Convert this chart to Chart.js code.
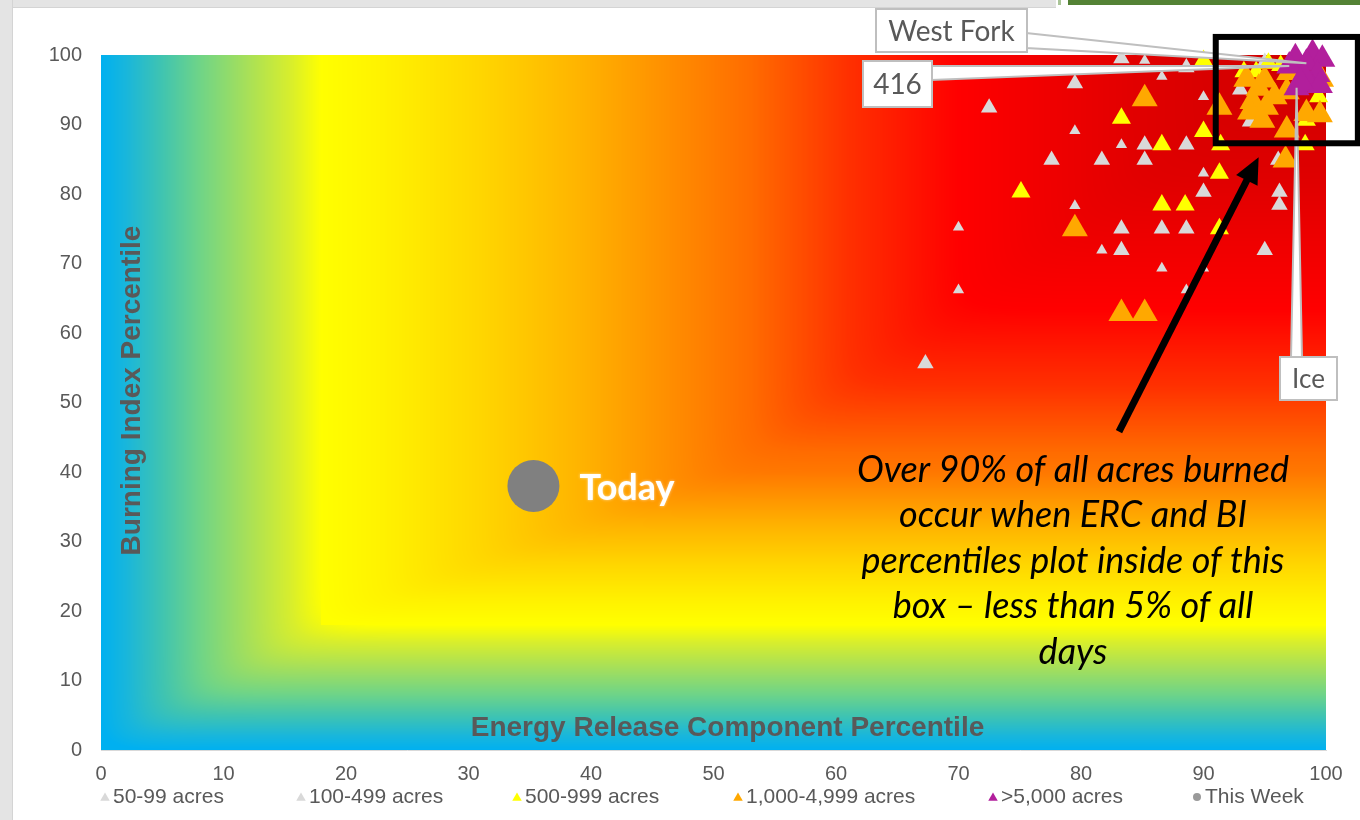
<!DOCTYPE html>
<html>
<head>
<meta charset="utf-8">
<title>ERC vs BI percentiles</title>
<script src="https://cdn.jsdelivr.net/npm/chart.js@4.4.1/dist/chart.umd.min.js"></script>
<style>
  html, body { margin: 0; padding: 0; background: #ffffff; overflow: hidden; }
  #wrap { position: relative; width: 1360px; height: 820px; }
  #chart { display: block; }
  .frame-top { position: absolute; left: 0; top: 0; width: 1056px; height: 7px; background: #e4e4e4; border-bottom: 1px solid #d4d4d4; }
  .frame-left { position: absolute; left: 0; top: 0; width: 12px; height: 820px; background: #e4e4e4; border-right: 1px solid #d4d4d4; }
  .bar-green { position: absolute; left: 1068px; top: 0; width: 292px; height: 5px; background: #548235; }
  .bar-thin { position: absolute; left: 1058px; top: 0; width: 3px; height: 5px; background: #a9c497; }
</style>
</head>
<body>
<div id="wrap">
  <canvas id="chart" width="1360" height="820"></canvas>
  <div class="frame-top"></div>
  <div class="frame-left"></div>
  <div class="bar-thin"></div>
  <div class="bar-green"></div>
</div>
<script>
// Axis ticks (percentiles)
const xTicks = [0, 10, 20, 30, 40, 50, 60, 70, 80, 90, 100];
const yTicks = [0, 10, 20, 30, 40, 50, 60, 70, 80, 90, 100];

// Series names
const seriesLabels = ['50-99 acres', '100-499 acres', '500-999 acres', '1,000-4,999 acres', '>5,000 acres', 'This Week'];

// Fires: [ERC percentile, BI percentile]
const fires50to99 = [
  [70.0, 75.2], [70.0, 66.2], [79.5, 89.1], [79.5, 78.3], [81.7, 71.9], [83.3, 87.1],
  [85.2, 99.2], [86.6, 96.9], [86.6, 69.3], [88.6, 66.2], [90.0, 94.0], [90.0, 83.0], [90.0, 69.3]
];
const fires100to499 = [
  [67.3, 55.6], [72.5, 92.4], [77.6, 84.9], [79.5, 95.9], [81.7, 84.9], [83.3, 99.5],
  [83.3, 75.0], [83.3, 71.9], [85.2, 87.1], [85.2, 84.9], [86.6, 75.0], [88.6, 98.2],
  [88.6, 87.1], [88.6, 75.0], [90.0, 80.3], [95.0, 71.9], [96.1, 84.9], [96.2, 80.3],
  [96.2, 78.4], [93.0, 95.0], [93.8, 90.4], [95.0, 99.0]
];
const fires500to999 = [
  [75.1, 80.3], [83.3, 90.9], [86.6, 87.1], [86.6, 78.4], [88.5, 78.4], [91.3, 83.0],
  [91.3, 75.0], [90.0, 99.2], [90.0, 89.0], [91.4, 87.1], [93.3, 97.6], [94.3, 97.6],
  [95.3, 98.8], [96.3, 98.5], [98.3, 87.1], [99.4, 94.0], [98.4, 90.6]
];
const fires1000to4999 = [
  [79.5, 75.0], [83.3, 62.8], [85.2, 62.8], [85.2, 93.7], [91.3, 92.5], [94.5, 95.2],
  [95.0, 96.4], [94.0, 93.3], [95.1, 92.5], [93.8, 91.8], [96.8, 94.7], [96.8, 89.2],
  [98.4, 91.6], [99.5, 91.4], [96.7, 84.9], [99.6, 96.5], [97.0, 97.5], [93.5, 96.5],
  [95.8, 94.0], [94.8, 90.6]
];
const firesOver5000 = [
  [97.5, 99.6], [98.9, 100.2], [99.7, 99.4], [98.4, 98.8], [99.3, 97.2],
  [97.6, 95.3], [98.7, 95.8], [97.0, 98.4], [98.2, 97.0], [99.5, 95.6], [97.9, 96.2]
];
const thisWeek = [[35.3, 38.0]];

// Named large fires (index into firesOver5000)
const fireNames = ['West Fork', '416', 'Ice'];
const fireNameIndex = [3, 7, 5];

// Highlight box and arrow, in percentile units
const hotBox = [[91.0, 102.6], [87.3, 102.6]];      // [xFrom, xTo], [yFrom, yTo]
const arrowFrom = [83.1, 45.8];
const arrowTo = [94.5, 85.3];

const noteLines = [
  'Over 90% of all acres burned',
  'occur when ERC and BI',
  'percentiles plot inside of this',
  'box \u2013 less than 5% of all',
  'days'
];
const todayLabel = 'Today';
const xTitle = 'Energy Release Component Percentile';
const yTitle = 'Burning Index Percentile';

const toXY = arr => arr.map(p => ({ x: p[0], y: p[1] }));

const SANS = "'Liberation Sans', Arial, sans-serif";
const GREY_TEXT = '#595959';

function buildLut(stops, maxV, n) {
  const s = stops.map(p => [p[0], parseInt(p[1].slice(1, 3), 16), parseInt(p[1].slice(3, 5), 16), parseInt(p[1].slice(5, 7), 16)]);
  const lut = [];
  for (let i = 0; i <= n; i++) {
    const v = i / n * maxV;
    let k = 0;
    while (k < s.length - 2 && v > s[k + 1][0]) k++;
    const a = s[k], b = s[k + 1];
    const t = Math.max(0, Math.min(1, (v - a[0]) / (b[0] - a[0])));
    lut.push([a[1] + (b[1] - a[1]) * t, a[2] + (b[2] - a[2]) * t, a[3] + (b[3] - a[3]) * t]);
  }
  return lut;
}

// Plot-area background: cool bands along the left and bottom edges,
// warm gradient growing from the upper-right corner
const heatBackground = {
  id: 'heatBackground',
  beforeDraw(chart, args, opts) {
    const { ctx, chartArea: a, scales } = chart;
    const L = Math.round(a.left), T = Math.round(a.top);
    const w = Math.round(a.right) - L, h = Math.round(a.bottom) - T;
    const N = 800;
    const edge = opts.edge;
    const bandLut = buildLut(opts.band, edge, N);
    const hotMax = 100 - edge;
    const hotLut = buildLut(opts.hot, hotMax, N);
    const k = opts.soft;
    const vk = opts.vScale, vKnee = opts.vKnee;
    const img = ctx.createImageData(w, h);
    const d = img.data;
    for (let j = 0; j < h; j++) {
      const yv = scales.y.getValueForPixel(T + j + 0.5);
      for (let i = 0; i < w; i++) {
        const xv = scales.x.getValueForPixel(L + i + 0.5);
        let c;
        if (xv < edge || yv < edge) {
          let m = -k * Math.log(Math.exp(-xv / k) + Math.exp(-yv / k));
          m = Math.max(0, Math.min(edge, m));
          c = bandLut[Math.round(m / edge * N)];
        } else {
          const u = 100 - xv, v = 100 - yv;
          const ve = v <= vKnee ? vk * v : vk * vKnee + (v - vKnee) * (hotMax - vk * vKnee) / (hotMax - vKnee);
          let D = k * Math.log(Math.exp(u / k) + Math.exp(ve / k));
          D = Math.max(0, Math.min(hotMax, D));
          c = hotLut[Math.round(D / hotMax * N)];
        }
        const o = (j * w + i) * 4;
        d[o] = c[0]; d[o + 1] = c[1]; d[o + 2] = c[2]; d[o + 3] = 255;
      }
    }
    ctx.putImageData(img, L, T);
  }
};

// Axis titles sit inside the plot area
const innerTitles = {
  id: 'innerTitles',
  beforeDatasetsDraw(chart, args, opts) {
    const { ctx, chartArea: a } = chart;
    ctx.save();
    ctx.fillStyle = GREY_TEXT;
    ctx.font = "bold 28px " + SANS;
    ctx.textAlign = 'center';
    ctx.textBaseline = 'middle';
    ctx.fillText(opts.x, (a.left + a.right) / 2 + opts.xShift, a.bottom - opts.xInset);
    ctx.translate(a.left + opts.yInset, (a.top + a.bottom) / 2 + opts.yShift);
    ctx.rotate(-Math.PI / 2);
    ctx.fillText(opts.y, 0, 0);
    ctx.restore();
  }
};

// Callouts, highlight box, arrow, note, today label and legend
const annotations = {
  id: 'annotations',
  afterDatasetsDraw(chart, args, opts) {
    const { ctx, scales } = chart;
    const px = v => scales.x.getPixelForValue(v);
    const py = v => scales.y.getPixelForValue(v);

    // fire name callouts
    const meta = chart.getDatasetMeta(4);
    opts.callouts.forEach((c, i) => {
      const el = meta.data[fireNameIndex[i]];
      const tx = el.x, ty = el.y;
      const [x, y, w, h] = c.box;
      ctx.save();
      ctx.lineWidth = 2;
      ctx.strokeStyle = '#bfbfbf';
      ctx.fillStyle = '#ffffff';
      ctx.beginPath();
      if (c.side === 'right') {
        ctx.moveTo(x + w - 1, c.base[0]);
        ctx.lineTo(tx, ty);
        ctx.lineTo(x + w - 1, c.base[1]);
      } else {
        ctx.moveTo(c.base[0], y + 1);
        ctx.lineTo(tx, ty);
        ctx.lineTo(c.base[1], y + 1);
      }
      ctx.closePath();
      ctx.fill();
      ctx.stroke();
      ctx.fillRect(x, y, w, h);
      ctx.strokeRect(x, y, w, h);
      ctx.fillStyle = GREY_TEXT;
      ctx.font = c.size + "px Lato, 'Open Sans', sans-serif";
      ctx.textAlign = 'center';
      ctx.textBaseline = 'middle';
      ctx.fillText(fireNames[i], x + w / 2, y + h / 2 + 1);
      ctx.restore();
    });

    // highlight box
    ctx.save();
    ctx.strokeStyle = '#000000';
    ctx.lineWidth = 6;
    const bx0 = px(hotBox[0][0]), bx1 = px(hotBox[0][1]);
    const by0 = py(hotBox[1][1]), by1 = py(hotBox[1][0]);
    ctx.strokeRect(bx0, by0, bx1 - bx0, by1 - by0);
    ctx.restore();

    // arrow
    ctx.save();
    const ax0 = px(arrowFrom[0]), ay0 = py(arrowFrom[1]);
    const ax1 = px(arrowTo[0]), ay1 = py(arrowTo[1]);
    const ang = Math.atan2(ay1 - ay0, ax1 - ax0);
    const headLen = 26, headHalf = 12;
    ctx.strokeStyle = '#000000';
    ctx.fillStyle = '#000000';
    ctx.lineWidth = 7;
    ctx.beginPath();
    ctx.moveTo(ax0, ay0);
    ctx.lineTo(ax1 - Math.cos(ang) * headLen * 0.8, ay1 - Math.sin(ang) * headLen * 0.8);
    ctx.stroke();
    ctx.beginPath();
    ctx.moveTo(ax1, ay1);
    ctx.lineTo(ax1 - Math.cos(ang) * headLen - Math.sin(ang) * headHalf, ay1 - Math.sin(ang) * headLen + Math.cos(ang) * headHalf);
    ctx.lineTo(ax1 - Math.cos(ang) * headLen + Math.sin(ang) * headHalf, ay1 - Math.sin(ang) * headLen - Math.cos(ang) * headHalf);
    ctx.closePath();
    ctx.fill();
    ctx.restore();

    // note text
    ctx.save();
    ctx.fillStyle = '#000000';
    ctx.font = "italic 36px Lato, 'Open Sans', sans-serif";
    ctx.textAlign = 'center';
    ctx.textBaseline = 'middle';
    noteLines.forEach((t, i) => ctx.fillText(t, opts.note.x, opts.note.y + i * opts.note.step));
    ctx.restore();

    // today label
    const tw = chart.getDatasetMeta(5).data[0];
    ctx.save();
    ctx.fillStyle = '#ffffff';
    ctx.shadowColor = 'rgba(255,255,255,0.6)';
    ctx.shadowBlur = 3;
    ctx.font = "bold 36px Lato, 'Open Sans', sans-serif";
    ctx.textAlign = 'left';
    ctx.textBaseline = 'middle';
    ctx.fillText(todayLabel, tw.x + 46, tw.y + 2);
    ctx.restore();
  },
  afterDraw(chart, args, opts) {
    const { ctx } = chart;
    const lg = opts.legend;
    ctx.save();
    ctx.font = lg.size + 'px ' + SANS;
    ctx.textBaseline = 'middle';
    ctx.textAlign = 'left';
    chart.data.datasets.forEach((ds, i) => {
      const cx = lg.x[i];
      const style = ds.pointStyle;
      ctx.fillStyle = ds.legendColor || ds.backgroundColor;
      Chart.helpers.drawPoint(ctx, {
        pointStyle: style, radius: style === 'circle' ? 4 : 5.5, borderWidth: 0, rotation: 0
      }, cx, lg.y + (style === 'circle' ? 0 : 1));
      ctx.fillStyle = GREY_TEXT;
      ctx.fillText(ds.label, cx + 8, lg.y);
    });
    ctx.restore();
  }
};

const ctx = document.getElementById('chart').getContext('2d');
new Chart(ctx, {
  type: 'scatter',
  data: {
    datasets: [
      { label: seriesLabels[0], data: toXY(fires50to99), pointStyle: 'triangle', pointRadius: 6.5, backgroundColor: '#d9d9d9', borderWidth: 0, order: 5, clip: false },
      { label: seriesLabels[1], data: toXY(fires100to499), pointStyle: 'triangle', pointRadius: 9.5, backgroundColor: '#d9d9d9', borderWidth: 0, order: 4, clip: false },
      { label: seriesLabels[2], data: toXY(fires500to999), pointStyle: 'triangle', pointRadius: 11, backgroundColor: '#ffff00', borderWidth: 0, order: 3, clip: false },
      { label: seriesLabels[3], data: toXY(fires1000to4999), pointStyle: 'triangle', pointRadius: 15, backgroundColor: '#ffa800', borderWidth: 0, order: 2, clip: false },
      { label: seriesLabels[4], data: toXY(firesOver5000), pointStyle: 'triangle', pointRadius: 15, backgroundColor: '#b21f9c', borderWidth: 0, order: 1, clip: false },
      { label: seriesLabels[5], data: toXY(thisWeek), pointStyle: 'circle', pointRadius: 26, backgroundColor: '#808080', legendColor: '#9a9a9a', borderWidth: 0, order: 0, clip: false }
    ]
  },
  options: {
    responsive: false,
    animation: false,
    events: [],
    layout: { padding: { top: 55, right: 34, left: 0, bottom: 0 } },
    scales: {
      x: {
        type: 'linear', min: 0, max: 100,
        afterBuildTicks: s => { s.ticks = xTicks.map(v => ({ value: v })); },
        afterFit: s => { s.height = 70; },
        grid: { display: false, drawTicks: false },
        border: { display: true, color: '#d9d9d9', width: 1 },
        ticks: { color: GREY_TEXT, font: { family: SANS, size: 20 }, padding: 12, maxRotation: 0, autoSkip: false }
      },
      y: {
        type: 'linear', min: 0, max: 100,
        afterBuildTicks: s => { s.ticks = yTicks.map(v => ({ value: v })); },
        afterFit: s => { s.width = 101; },
        grid: { display: false, drawTicks: false },
        border: { display: false },
        ticks: { color: GREY_TEXT, font: { family: SANS, size: 20 }, padding: 19, autoSkip: false }
      }
    },
    plugins: {
      legend: { display: false },
      tooltip: { enabled: false },
      heatBackground: {
        soft: 1.5,
        edge: 18,
        vScale: 0.82,
        vKnee: 60,
        band: [[0, '#00b0f0'], [2, '#18b6dc'], [5, '#40c4b0'], [8, '#6ed488'], [12, '#a8e058'], [15.5, '#d8ee2c'], [18, '#ffff00']],
        hot: [[0, '#cc0000'], [15, '#e00000'], [30, '#ff0000'], [39, '#ff3000'], [47, '#ff6c00'], [54, '#ff9000'],
              [61, '#ffb400'], [69, '#ffd600'], [77, '#fff200'], [82, '#ffff00']]
      },
      innerTitles: { x: xTitle, y: yTitle, xShift: 14, xInset: 22, yInset: 31, yShift: -12 },
      annotations: {
        callouts: [
          { box: [876, 9, 151, 43], side: 'right', base: [33, 48], size: 28 },
          { box: [863, 61, 69, 46], side: 'right', base: [66, 80], size: 28 },
          { box: [1280, 357, 57, 43], side: 'top', base: [1291, 1302], size: 26 }
        ],
        note: { x: 1073, y: 470, step: 45.5 },
        legend: { y: 797, size: 21, x: [105, 301, 517, 738, 993, 1197] }
      }
    }
  },
  plugins: [heatBackground, innerTitles, annotations]
});
</script>
</body>
</html>
